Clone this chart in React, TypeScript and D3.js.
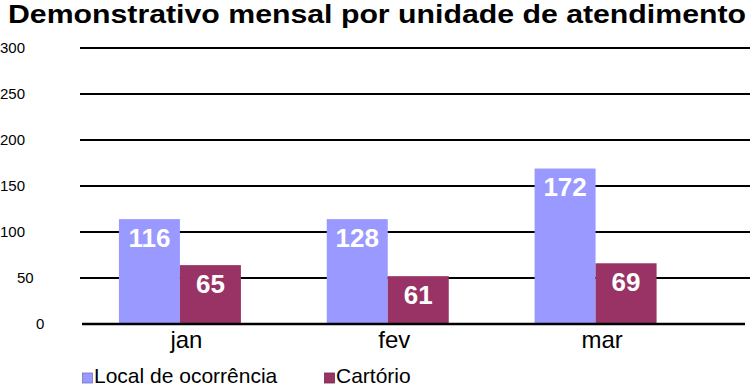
import React from "react";
import * as d3 from "d3";

const title = "Demonstrativo mensal por unidade de atendimento";
const months = ["jan", "fev", "mar"];
const seriesNames = ["Local de ocorrência", "Cartório"];
const localLabels = [116, 128, 172];
const cartorioLabels = [65, 61, 69];
// bar heights as drawn in the picture
const localBars = [114, 114, 169];
const cartorioBars = [64, 52, 66];
const yTicks = [0, 50, 100, 150, 200, 250, 300];
const colors = ["#9999FF", "#993366"];

const FONT = "'Liberation Sans', Arial, Helvetica, sans-serif";

export default function App() {
  const W = 750;
  const H = 386;
  const y = d3.scaleLinear().domain([0, 300]).range([324, 48]);
  const x = d3.scaleBand<string>().domain(months).range([76, 699.5]).padding(0);
  const inner = d3.scaleBand<string>().domain(seriesNames).range([-61, 61]).padding(0);
  const bars = [localBars, cartorioBars];
  const labels = [localLabels, cartorioLabels];

  const tickX = (v: number) => (v >= 100 ? 0 : v === 50 ? 17 : 36);

  return (
    <svg
      width={W}
      height={H}
      style={{ position: "absolute", left: 0, top: 0, background: "#fff" }}
      fontFamily={FONT}
    >
      <text x={8} y={23} fontSize={25} fontWeight="bold" textLength={738} lengthAdjust="spacingAndGlyphs" fill="#000">
        {title}
      </text>
      {yTicks.map((t) => (
        <g key={t}>
          {t > 0 && (
            <line x1={80} x2={750} y1={y(t)} y2={y(t)} stroke="#000" strokeWidth={2} />
          )}
          <text x={tickX(t)} y={y(t)} dy="0.35em" fontSize={15} fill="#000">
            {t}
          </text>
        </g>
      ))}
      {months.map((m, i) => {
        const cx = (x(m) as number) + x.bandwidth() / 2;
        return (
          <g key={m}>
            {seriesNames.map((s, j) => {
              const v = bars[j][i];
              const bx = cx + (inner(s) as number);
              const top = y(v);
              return (
                <g key={s}>
                  <rect x={bx} y={top} width={inner.bandwidth()} height={y(0) - top} fill={colors[j]} />
                  <text
                    x={bx + inner.bandwidth() / 2}
                    y={top + 27.5}
                    textAnchor="middle"
                    fontSize={26}
                    fontWeight="bold"
                    fill="#fff"
                  >
                    {labels[j][i]}
                  </text>
                </g>
              );
            })}
            <text x={cx + 6.5} y={347.5} textAnchor="middle" fontSize={24} fill="#000">
              {m}
            </text>
          </g>
        );
      })}
      <line x1={82} x2={745} y1={y(0)} y2={y(0)} stroke="#000" strokeWidth={2.5} />
      {seriesNames.map((s, j) => {
        const lx = j === 0 ? 82.5 : 324.5;
        return (
          <g key={s}>
            <rect x={lx} y={373} width={10} height={10} fill={colors[j]} stroke={d3.color(colors[j])!.darker(0.8).toString()} strokeWidth={0.8} />
            <text x={lx + 11.5} y={383} fontSize={21} fill="#000">
              {s}
            </text>
          </g>
        );
      })}
    </svg>
  );
}
